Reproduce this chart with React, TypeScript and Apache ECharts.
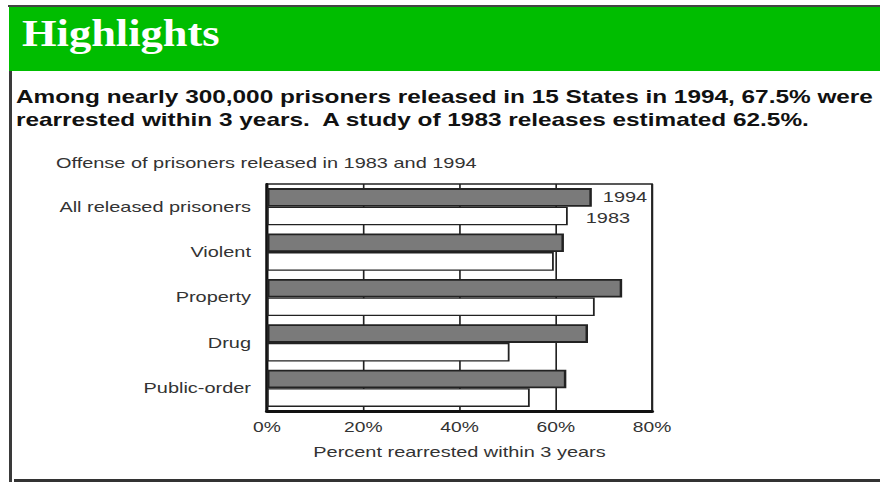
import React, { useEffect, useRef } from "react";
import * as echarts from "echarts";

const categories = ["All released prisoners", "Violent", "Property", "Drug", "Public-order"];
const released1994 = [67.5, 61.7, 73.8, 66.7, 62.2];
const released1983 = [62.5, 59.6, 68.1, 50.4, 54.6];
const seriesNames = ["1994", "1983"];
const xMin = 0;
const xMax = 80;
const xStep = 20;

const headline = "Highlights";
const bodyLines = [
  "Among nearly 300,000 prisoners released in 15 States in 1994, 67.5% were",
  "rearrested within 3 years.  A study of 1983 releases estimated 62.5%.",
];
const chartTitle = "Offense of prisoners released in 1983 and 1994";
const axisTitle = "Percent rearrested within 3 years";

// The whole figure is drawn 640 px wide and stretched horizontally to 880 px,
// like the reference image.
const STRETCH = 880 / 640;
const W = 640;
const sx = (v: number) => v / STRETCH;

const sansFont = "'Liberation Sans', Arial, sans-serif";

export default function App() {
  const ref = useRef<HTMLDivElement>(null);
  useEffect(() => {
    if (!ref.current) return;
    const chart = echarts.init(ref.current, null, { renderer: "svg" });
    const option: any = {
      animation: false,
      backgroundColor: "#ffffff",
      graphic: [
        { type: "rect", shape: { x: sx(8), y: 5, width: W - sx(8), height: 2 }, style: { fill: "#444" } },
        { type: "rect", shape: { x: sx(9), y: 7, width: W - sx(9), height: 64 }, style: { fill: "#00bd00" } },
        { type: "rect", shape: { x: sx(9), y: 71, width: sx(3), height: 411 }, style: { fill: "#3a3a3a" } },
        { type: "rect", shape: { x: sx(14), y: 479, width: W - sx(14), height: 3 }, style: { fill: "#333" } },
        {
          type: "text", x: sx(22), y: 33, scaleX: 1.17 / STRETCH,
          style: { text: headline, fill: "#ffffff", font: "bold 38px 'Liberation Serif', serif", verticalAlign: "middle", align: "left" },
        },
        {
          type: "text", x: sx(16), y: 97, scaleX: 0.985,
          style: { text: bodyLines[0], fill: "#111", font: "bold 18px " + sansFont, verticalAlign: "middle", align: "left" },
        },
        {
          type: "text", x: sx(16), y: 120.5, scaleX: 0.985,
          style: { text: bodyLines[1], fill: "#111", font: "bold 18px " + sansFont, verticalAlign: "middle", align: "left" },
        },
        {
          type: "text", x: sx(56), y: 163.5,
          style: { text: chartTitle, fill: "#333", font: "14.5px " + sansFont, verticalAlign: "middle", align: "left" },
        },
      ],
      grid: {
        left: sx(267), top: 184, width: sx(385), height: 227,
        show: true, borderColor: "#222", borderWidth: 1.3, backgroundColor: "transparent",
      },
      xAxis: {
        type: "value", min: xMin, max: xMax, interval: xStep,
        name: axisTitle, nameLocation: "middle", nameGap: 33,
        nameTextStyle: { fontFamily: sansFont, fontSize: 14.5, color: "#333" },
        axisLine: { show: true, lineStyle: { color: "#111", width: 3 } },
        axisTick: { show: false },
        axisLabel: { formatter: "{value}%", margin: 9, fontFamily: sansFont, fontSize: 14, color: "#333" },
        splitLine: { show: true, lineStyle: { color: "#222", width: 1.2 } },
      },
      yAxis: {
        type: "category", data: categories, inverse: true,
        axisLine: { show: true, lineStyle: { color: "#111", width: 2.2 } },
        axisTick: { show: false },
        axisLabel: { margin: sx(16), fontFamily: sansFont, fontSize: 14.5, color: "#333" },
        splitLine: { show: false },
      },
      series: [
        {
          name: seriesNames[0], type: "bar", barGap: "0%", barCategoryGap: "18%",
          data: released1994.map((v, i) =>
            i === 0
              ? { value: v, label: { show: true, position: "right", distance: sx(11), formatter: seriesNames[0], fontFamily: sansFont, fontSize: 14.5, color: "#333" } }
              : v
          ),
          itemStyle: { color: "#7a7a7a", borderColor: "#222", borderWidth: 1.8 },
        },
        {
          name: seriesNames[1], type: "bar", barGap: "0%", barCategoryGap: "18%",
          data: released1983.map((v, i) =>
            i === 0
              ? { value: v, label: { show: true, position: "right", distance: sx(18), offset: [0, 2], formatter: seriesNames[1], fontFamily: sansFont, fontSize: 14.5, color: "#333" } }
              : v
          ),
          itemStyle: { color: "#ffffff", borderColor: "#222", borderWidth: 1.3 },
        },
      ],
    };
    chart.setOption(option);
    return () => chart.dispose();
  }, []);
  return (
    <div
      ref={ref}
      style={{
        position: "fixed",
        left: 0,
        top: 0,
        width: W,
        height: 482,
        transform: `scaleX(${STRETCH})`,
        transformOrigin: "0 0",
      }}
    />
  );
}
